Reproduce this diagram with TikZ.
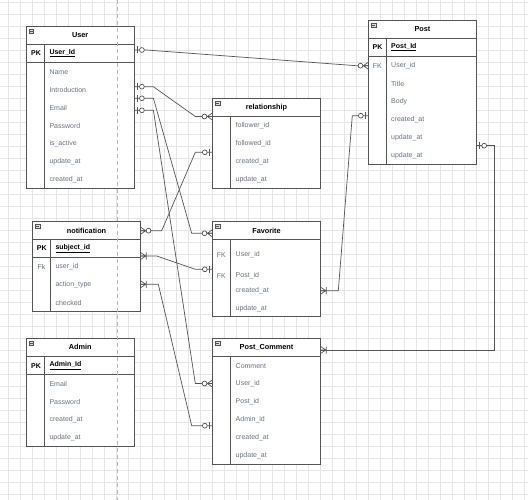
\documentclass[tikz,border=0pt]{standalone}
\usepackage{fontspec}
\setmainfont{Liberation Sans}
\definecolor{linec}{HTML}{555555}
\definecolor{connc}{HTML}{555555}
\definecolor{fldc}{HTML}{6A7482}
\definecolor{gridc}{HTML}{E6E6E6}
\definecolor{pagec}{HTML}{B8B8B8}
\tikzset{
  tbl/.style={draw=linec, line width=0.8pt, fill=white, minimum width=108.4pt, inner sep=0pt, outer sep=0pt, anchor=north west},
  ttl/.style={font=\fontsize{7.3}{8}\selectfont\bfseries, text=black, inner sep=0pt},
  fld/.style={font=\fontsize{7}{8}\selectfont, text=fldc, anchor=west, inner sep=0pt},
  keyb/.style={font=\fontsize{7}{8}\selectfont\bfseries, text=black, anchor=west, inner sep=0pt},
  keyr/.style={font=\fontsize{7}{8}\selectfont, text=fldc, anchor=west, inner sep=0pt},
  sep/.style={draw=linec, line width=0.8pt},
  conn/.style={draw=connc, line width=0.7pt},
  mk/.style={draw=connc, line width=0.7pt},
  pics/zeroone/.style={code={
    \draw[mk] (3,-3.5) -- (3,3.5);
    \draw[mk, fill=white] (7.5,0) circle (2.4pt);}},
  pics/zeromany/.style={code={
    \draw[mk] (0,-3.5) -- (5,0) -- (0,3.5) (0,0) -- (5,0);
    \draw[mk, fill=white] (7.8,0) circle (2.4pt);}},
  pics/onemany/.style={code={
    \draw[mk] (0,-3.5) -- (5,0) -- (0,3.5) (0,0) -- (5,0) (5.5,-3.5) -- (5.5,3.5);}},
}
% #1 name, #2 x, #3 y, #4 height, #5 title, #6 has PK row (1/0)
\newcommand\erframe[6]{%
  \node[tbl, minimum height=#4pt] (#1) at (#2,#3) {};
  \draw[sep] ([yshift=-18pt]#1.north west) -- ([yshift=-18pt]#1.north east);
  \ifnum#6=1
    \draw[sep] ([yshift=-36pt]#1.north west) -- ([yshift=-36pt]#1.north east);
  \fi
  \draw[sep] ([xshift=18.4pt,yshift=-18pt]#1.north west) -- ([xshift=18.4pt]#1.south west);
  \node[ttl] (#1-title) at ([yshift=-9pt]#1.north) {#5};
  \draw[draw=linec, fill=gray!25, line width=0.5pt] ([xshift=3pt,yshift=-3pt]#1.north west) rectangle ([xshift=7.5pt,yshift=-7pt]#1.north west);
  \draw[linec, line width=0.6pt] ([xshift=3.8pt,yshift=-5pt]#1.north west) -- ([xshift=6.7pt,yshift=-5pt]#1.north west);
}
\begin{document}
\begin{tikzpicture}[x=1pt,y=-1pt]
\useasboundingbox (0,0) rectangle (528,500);
\fill[white] (0,0) rectangle (528,500);
% grid
\foreach \i in {0,...,43} \draw[gridc, line width=0.5pt] ({8.5+12*\i},0) -- ({8.5+12*\i},500);
\foreach \j in {0,...,41} \draw[gridc, line width=0.5pt] (0,{2+12*\j}) -- (528,{2+12*\j});

% ---------- tables ----------
\erframe{user}{26}{26}{162.2}{User}{1}
\node[keyb] (u0k) at (31,53.3) {PK};
\node[keyb] (u0) at (49.3,53.3) {\underline{User\_Id}};
\node[fld] (u1) at (49.3,71.7) {Name};
\node[fld] (u2) at (49.3,89.7) {Introduction};
\node[fld] (u3) at (49.3,107.7) {Email};
\node[fld] (u4) at (49.3,125.7) {Password};
\node[fld] (u5) at (49.3,143.7) {is\_active};
\node[fld] (u6) at (49.3,161.7) {update\_at};
\node[fld] (u7) at (49.3,179.7) {created\_at};

\erframe{rel}{212.3}{98.3}{90}{relationship}{0}
\node[fld] (r1) at (235.5,125.7) {follower\_id};
\node[fld] (r2) at (235.5,143.7) {followed\_id};
\node[fld] (r3) at (235.5,161.7) {created\_at};
\node[fld] (r4) at (235.5,179.7) {update\_at};

\erframe{post}{368.3}{20.5}{143.8}{Post}{1}
\node[keyb] (p0k) at (372.5,47.3) {PK};
\node[keyb] (p0) at (391,47.3) {\underline{Post\_Id}};
\node[keyr] (p1k) at (372.7,65.7) {FK};
\node[fld] (p1) at (391,65.7) {User\_id};
\node[fld] (p2) at (391,83.7) {Title};
\node[fld] (p3) at (391,101.7) {Body};
\node[fld] (p4) at (391,119.7) {created\_at};
\node[fld] (p5) at (391,137.7) {update\_at};
\node[fld] (p6) at (391,155.7) {update\_at};

\erframe{noti}{32.3}{221.7}{90}{notification}{1}
\node[keyb] (n0k) at (36.7,248.3) {PK};
\node[keyb] (n0) at (55.3,248.3) {\underline{subject\_id}};
\node[keyr] (n1k) at (37.5,266.7) {Fk};
\node[fld] (n1) at (55.3,266.7) {user\_id};
\node[fld] (n2) at (55.3,284.7) {action\_type};
\node[fld] (n3) at (55.3,302.7) {checked};

\erframe{fav}{212.3}{221.7}{95}{Favorite}{0}
\node[keyr] (f1k) at (216.7,254.7) {FK};
\node[fld] (f1) at (235.5,254.7) {User\_id};
\node[keyr] (f2k) at (216.7,275.7) {FK};
\node[fld] (f2) at (235.5,275.7) {Post\_id};
\node[fld] (f3) at (235.5,290.7) {created\_at};
\node[fld] (f4) at (235.5,308.7) {update\_at};

\erframe{admin}{26}{338.3}{107.7}{Admin}{1}
\node[keyb] (a0k) at (31,365.7) {PK};
\node[keyb] (a0) at (49.3,365.7) {\underline{Admin\_Id}};
\node[fld] (a1) at (49.3,383.7) {Email};
\node[fld] (a2) at (49.3,401.7) {Password};
\node[fld] (a3) at (49.3,419.7) {created\_at};
\node[fld] (a4) at (49.3,437.7) {update\_at};

\erframe{pc}{212.3}{338.3}{126}{Post\_Comment}{0}
\node[fld] (c1) at (235.5,365.7) {Comment};
\node[fld] (c2) at (235.5,383.7) {User\_id};
\node[fld] (c3) at (235.5,401.7) {Post\_id};
\node[fld] (c4) at (235.5,419.7) {Admin\_id};
\node[fld] (c5) at (235.5,437.7) {created\_at};
\node[fld] (c6) at (235.5,455.7) {update\_at};

% ---------- connector end points ----------
\coordinate (e1s) at ([yshift=-24pt]user.north east);
\coordinate (e2s) at ([yshift=-60.7pt]user.north east);
\coordinate (e3s) at ([yshift=-72.3pt]user.north east);
\coordinate (e4s) at ([yshift=-84.3pt]user.north east);
\coordinate (e1e) at ([yshift=-45.2pt]post.north west);
\coordinate (e8e) at ([yshift=-95.2pt]post.north west);
\coordinate (e9s) at ([yshift=-125.2pt]post.north east);
\coordinate (e2e) at ([yshift=-18.2pt]rel.north west);
\coordinate (e5e) at ([yshift=-54pt]rel.north west);
\coordinate (e3e) at ([yshift=-11.6pt]fav.north west);
\coordinate (e6e) at ([yshift=-47.6pt]fav.north west);
\coordinate (e8s) at ([yshift=-69pt]fav.north east);
\coordinate (e5s) at ([yshift=-9pt]noti.north east);
\coordinate (e6s) at ([yshift=-34.3pt]noti.north east);
\coordinate (e7s) at ([yshift=-62.6pt]noti.north east);
\coordinate (e4e) at ([yshift=-45.2pt]pc.north west);
\coordinate (e7e) at ([yshift=-87.4pt]pc.north west);
\coordinate (e9e) at ([yshift=-11.7pt]pc.north east);

% ---------- connectors ----------
\draw[conn] (e1s) -- ++(12,0) -- ([xshift=-12pt]e1e) -- (e1e);
\draw[conn] (e2s) -- ++(19,0) -- ([xshift=-17pt]e2e) -- (e2e);
\draw[conn] (e3s) -- ++(19,0) -- ([xshift=-20.6pt]e3e) -- (e3e);
\draw[conn] (e4s) -- ++(19,0) -- ([xshift=-17pt]e4e) -- (e4e);
\draw[conn] (e5s) -- ++(21,0) -- ([xshift=-17pt]e5e) -- (e5e);
\draw[conn] (e6s) -- ++(16,0) -- ([xshift=-17pt]e6e) -- (e6e);
\draw[conn] (e7s) -- ++(17.6,0) -- ([xshift=-20.6pt]e7e) -- (e7e);
\draw[conn] (e8s) -- ++(17.6,0) -- ([xshift=-16pt]e8e) -- (e8e);
\draw[conn] (e9s) -- ++(17.8,0) |- (e9e);

% ---------- markers ----------
\pic at (e1s) {zeroone};
\pic at (e2s) {zeroone};
\pic at (e3s) {zeroone};
\pic at (e4s) {zeroone};
\pic[xscale=-1] at (e1e) {zeromany};
\pic[xscale=-1] at (e2e) {zeromany};
\pic[xscale=-1] at (e3e) {zeromany};
\pic[xscale=-1] at (e4e) {zeromany};
\pic at (e5s) {zeromany};
\pic[xscale=-1] at (e5e) {zeroone};
\pic at (e6s) {onemany};
\pic[xscale=-1] at (e6e) {zeroone};
\pic at (e7s) {onemany};
\pic[xscale=-1] at (e7e) {zeroone};
\pic at (e8s) {onemany};
\pic[xscale=-1] at (e8e) {zeroone};
\pic at (e9s) {zeroone};
\pic at (e9e) {onemany};

% page break line
\draw[pagec, line width=0.6pt, dash pattern=on 4pt off 3pt] (117,0) -- (117,500);
\end{tikzpicture}
\end{document}
